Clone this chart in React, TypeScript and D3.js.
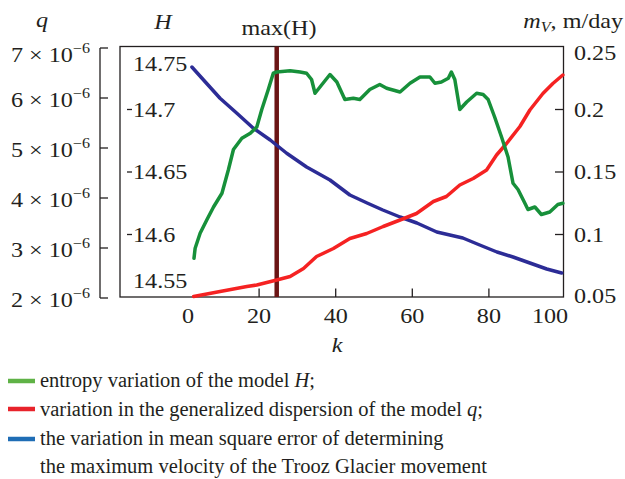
import React, { useRef, useEffect } from 'react';
import * as d3 from 'd3';

// entropy H (green)
const hK = [3, 3.3, 4.6, 6.4, 8.1, 10.3, 12, 13.3, 15.5, 17.7, 19.4, 20.7, 22.4, 23.7, 24.6, 28.1, 30.7, 32.4, 33.7, 34.6, 35.9, 38.5, 40.3, 42.4, 44.6, 46.3, 48.9, 51.5, 53.3, 56.8, 59.4, 62, 64.6, 65.9, 67.6, 69.4, 70.2, 71.1, 72.4, 74.2, 76.8, 78.5, 79.8, 81.5, 83.3, 85, 86.3, 87.6, 89.4, 90.2, 92, 93.7, 95.9, 98, 99.3];
const hValues = [14.581, 14.589, 14.601, 14.612, 14.622, 14.633, 14.652, 14.668, 14.677, 14.681, 14.686, 14.7, 14.716, 14.729, 14.73, 14.731, 14.73, 14.729, 14.724, 14.713, 14.718, 14.728, 14.722, 14.708, 14.709, 14.708, 14.716, 14.72, 14.717, 14.714, 14.721, 14.726, 14.726, 14.721, 14.722, 14.725, 14.73, 14.724, 14.7, 14.706, 14.713, 14.712, 14.708, 14.694, 14.678, 14.662, 14.641, 14.636, 14.625, 14.62, 14.622, 14.616, 14.618, 14.624, 14.625];

// generalized dispersion q (red), units of 1e-6
const qK = [2.9, 9.8, 16.8, 19.4, 24.6, 28.1, 31.6, 35, 39.4, 43.7, 48.1, 52.4, 56.8, 61.1, 65.5, 68.9, 72.4, 75.9, 79.4, 82, 84.6, 88.1, 90.7, 94.1, 96.7, 99.3];
const qValues = [2.03, 2.13, 2.23, 2.26, 2.36, 2.43, 2.59, 2.83, 2.99, 3.19, 3.29, 3.43, 3.56, 3.69, 3.93, 4.03, 4.26, 4.39, 4.56, 4.86, 5.09, 5.43, 5.76, 6.09, 6.29, 6.46];

// mean square error m_V (blue), m/day
const mK = [2.45, 5.5, 9.8, 14.2, 18.5, 22.9, 27.2, 32.4, 38.5, 43.7, 48.2, 52.3, 56.8, 61.2, 66.4, 73.2, 77.6, 82.1, 86.3, 90.7, 95.1, 99];
const mValues = [0.234, 0.2236, 0.209, 0.197, 0.185, 0.1756, 0.165, 0.154, 0.1436, 0.1316, 0.1252, 0.1196, 0.114, 0.1092, 0.102, 0.0972, 0.0916, 0.086, 0.082, 0.0772, 0.0724, 0.0692];

const kTicks = [0, 20, 40, 60, 80, 100];
const hTicks = [14.55, 14.6, 14.65, 14.7, 14.75];
const qTicks = [2, 3, 4, 5, 6, 7];
const mTicks = [0.05, 0.1, 0.15, 0.2, 0.25];
const maxHK = 24.6;

const legendItems = [
  { color: '#5fb246', text: 'entropy variation of the model ', it: 'H', tail: ';' },
  { color: '#e8232b', text: 'variation in the generalized dispersion of the model ', it: 'q', tail: ';' },
  { color: '#1f6db5', text: 'the variation in mean square error of determining', it: '', tail: '' },
];
const legendExtra = 'the maximum velocity of the Trooz Glacier movement';

const FONT = '"Liberation Serif", "Times New Roman", serif';

const App: React.FC = () => {
  const svgRef = useRef<SVGSVGElement | null>(null);

  useEffect(() => {
    if (!svgRef.current) return;
    const svg = d3.select(svgRef.current);
    svg.selectAll('*').remove();

    const left = 120, right = 563.5, top = 46.5, bottom = 297;

    const x = d3.scaleLinear().domain([0, 100]).range([182.5, 565.5]);
    const yH = d3.scaleLinear().domain([14.55, 14.75]).range([bottom, 47]);
    const yM = d3.scaleLinear().domain([0.05, 0.25]).range([bottom, 47]);
    const yQ = d3.scaleLinear().domain([2, 7]).range([298, 48]);

    // stretched serif text like the original figure
    const label = (px: number, py: number, anchor: string, size = 21, sx = 1.15) =>
      svg
        .append('g')
        .attr('transform', `translate(${px},${py}) scale(${sx},1)`)
        .append('text')
        .attr('text-anchor', anchor)
        .attr('font-family', FONT)
        .attr('font-size', size)
        .attr('fill', '#231f20');

    // frame
    svg
      .append('rect')
      .attr('x', left)
      .attr('y', top)
      .attr('width', right - left)
      .attr('height', bottom - top)
      .attr('fill', 'none')
      .attr('stroke', '#231f20')
      .attr('stroke-width', 1.3);

    // q axis (outside left)
    svg
      .append('line')
      .attr('x1', 100).attr('x2', 100)
      .attr('y1', yQ(7)).attr('y2', yQ(2))
      .attr('stroke', '#231f20').attr('stroke-width', 1.3);
    qTicks.forEach(t => {
      svg
        .append('line')
        .attr('x1', 100).attr('x2', 108)
        .attr('y1', yQ(t)).attr('y2', yQ(t))
        .attr('stroke', '#231f20').attr('stroke-width', 1.3);
      const by = t === 7 ? 61.7 : yQ(t) + 8.5;
      const txt = label(90, by, 'end');
      txt.append('tspan').text(`${t} \u00d7 10`);
      txt.append('tspan').attr('font-size', 14).attr('dy', -9).text('\u22126');
    });

    // H ticks (inside left)
    hTicks.forEach(t => {
      if (t > 14.55 && t < 14.75) {
        svg
          .append('line')
          .attr('x1', 127).attr('x2', 132)
          .attr('y1', yH(t)).attr('y2', yH(t))
          .attr('stroke', '#231f20').attr('stroke-width', 1.3);
      }
      const by = t === 14.75 ? 70.7 : t === 14.55 ? 288 : yH(t) + 7;
      label(133, by, 'start').text(t.toString());
    });

    // m_V ticks (right)
    mTicks.forEach(t => {
      if (t > 0.05 && t < 0.25) {
        svg
          .append('line')
          .attr('x1', right - 8.5).attr('x2', right)
          .attr('y1', yM(t)).attr('y2', yM(t))
          .attr('stroke', '#231f20').attr('stroke-width', 1.3);
      }
      const by = t === 0.25 ? 60 : t === 0.05 ? 303 : yM(t) + 7;
      label(574, by, 'start').text(t.toString());
    });

    // k ticks (bottom)
    kTicks.forEach(t => {
      if (t > 0 && t < 100) {
        svg
          .append('line')
          .attr('x1', x(t)).attr('x2', x(t))
          .attr('y1', bottom).attr('y2', bottom - 8.5)
          .attr('stroke', '#231f20').attr('stroke-width', 1.3);
      }
      const lx = t === 0 ? x(t) + 5.5 : t === 100 ? 550 : x(t);
      label(lx, 323, 'middle').text(t.toString());
    });

    // max(H) marker
    svg
      .append('line')
      .attr('x1', x(maxHK)).attr('x2', x(maxHK))
      .attr('y1', top).attr('y2', bottom)
      .attr('stroke', '#6b1515').attr('stroke-width', 4.5);

    // curves
    const draw = (ks: number[], vs: number[], y: d3.ScaleLinear<number, number>, color: string) => {
      const line = d3
        .line<number>()
        .x((_, i) => x(ks[i]))
        .y(d => y(d));
      svg
        .append('path')
        .datum(vs)
        .attr('d', line)
        .attr('fill', 'none')
        .attr('stroke', color)
        .attr('stroke-width', 3.5)
        .attr('stroke-linejoin', 'round')
        .attr('stroke-linecap', 'round');
    };
    draw(mK, mValues, yM, '#2c2c96');
    draw(qK, qValues, yQ, '#f52222');
    draw(hK, hValues, yH, '#17903a');

    // titles
    label(42, 27, 'middle').attr('font-style', 'italic').text('q');
    label(163, 29, 'middle').attr('font-style', 'italic').text('H');
    label(279, 34.5, 'middle').text('max(H)');
    const mt = label(623, 28, 'end');
    mt.append('tspan').attr('font-style', 'italic').text('m');
    mt.append('tspan').attr('font-style', 'italic').attr('font-size', 14).attr('dy', 4).text('V');
    mt.append('tspan').attr('dy', -4).text(', m/day');
    label(337, 352, 'middle').attr('font-style', 'italic').text('k');

    // legend
    const ly = [381, 409, 439];
    const lb = [387, 416, 445];
    legendItems.forEach((d, i) => {
      svg
        .append('line')
        .attr('x1', 8).attr('x2', 35)
        .attr('y1', ly[i]).attr('y2', ly[i])
        .attr('stroke', d.color).attr('stroke-width', 4.5);
      const t = label(40, lb[i], 'start', 20.5, 1);
      t.append('tspan').text(d.text);
      if (d.it) t.append('tspan').attr('font-style', 'italic').text(d.it);
      if (d.tail) t.append('tspan').text(d.tail);
    });
    label(40, 473, 'start', 20.5, 1).text(legendExtra);
  }, []);

  return (
    <svg
      ref={svgRef}
      width={625}
      height={479}
      style={{ position: 'absolute', left: 0, top: 0, background: '#fff' }}
    ></svg>
  );
};

export default App;
